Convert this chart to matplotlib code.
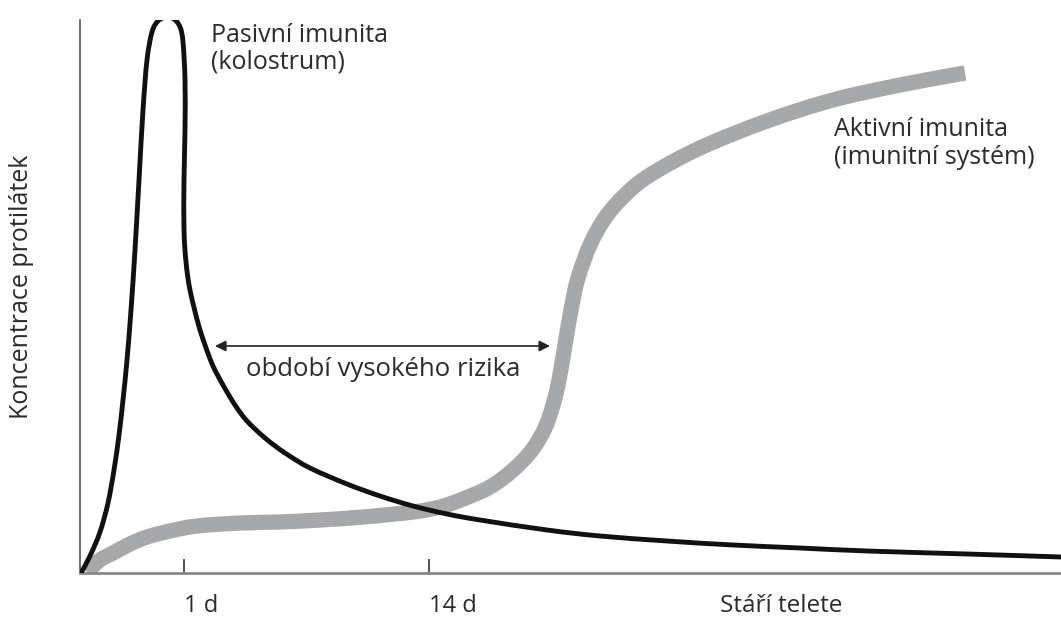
import matplotlib
matplotlib.use("Agg")
import matplotlib.pyplot as plt
from matplotlib.path import Path
from matplotlib.patches import PathPatch

plt.rcParams['font.family'] = ['Open Sans', 'DejaVu Sans']

# Passive immunity (colostrum) curve: x = age (arbitrary units), y = concentration
passive_x = [1, 10, 20, 28, 34, 39, 43, 47, 51, 55, 59, 63, 67, 72, 78, 86, 94, 100,
             103, 105, 105, 104, 104, 106, 110, 118, 125, 133, 143, 155, 167, 185, 205,
             230, 267, 300, 333, 367, 400, 467, 520, 587, 653, 720, 787, 887, 981]
passive_y = [0, 17, 41, 70, 103, 138, 173, 213, 263, 323, 393, 463, 513, 541, 552, 556,
             554, 546, 531, 493, 443, 393, 343, 311, 283, 250, 228, 207, 188, 168, 152,
             135, 120, 105, 89, 77, 67, 59, 53, 43, 37, 32, 28, 25, 22, 19, 16]

# Active immunity (immune system) curve
active_x = [7, 20, 33, 50, 67, 90, 117, 160, 200, 240, 283, 333, 360, 383, 410, 433, 452,
            465, 473, 479, 485, 491, 498, 510, 525, 545, 570, 620, 687, 753, 820, 885]
active_y = [1, 13, 20, 29, 36, 42, 47, 50, 51, 53, 56, 61, 66, 74, 86, 103, 123,
            145, 168, 193, 228, 263, 295, 328, 355, 378, 398, 425, 452, 473, 488, 500]

tick_pos = [104, 349]
tick_labels = ["1 d", "14 d"]

risk_start, risk_end, risk_level = 135, 470, 227

TXT = '#2b2b2b'


def smooth_path(xs, ys):
    """Catmull-Rom rendering of the read points as cubic Bezier segments."""
    pts = list(zip(xs, ys))
    verts = [pts[0]]
    codes = [Path.MOVETO]
    n = len(pts)
    for i in range(n - 1):
        p0 = pts[i - 1] if i > 0 else pts[i]
        p1 = pts[i]
        p2 = pts[i + 1]
        p3 = pts[i + 2] if i + 2 < n else pts[i + 1]
        c1 = (p1[0] + (p2[0] - p0[0]) / 6, p1[1] + (p2[1] - p0[1]) / 6)
        c2 = (p2[0] - (p3[0] - p1[0]) / 6, p2[1] - (p3[1] - p1[1]) / 6)
        verts += [c1, c2, p2]
        codes += [Path.CURVE4] * 3
    return Path(verts, codes)


W, H = 1061, 617
fig = plt.figure(figsize=(W / 100, H / 100), dpi=100)
ax = fig.add_axes([80 / W, 44 / H, 981 / W, 553 / H])
ax.set_xlim(0, 981)
ax.set_ylim(0, 553)

ax.add_patch(PathPatch(smooth_path(active_x, active_y), facecolor='none',
                       edgecolor='#a7a8aa', lw=11, capstyle='butt', joinstyle='round',
                       zorder=2))
ax.add_patch(PathPatch(smooth_path(passive_x, passive_y), facecolor='none',
                       edgecolor='#111111', lw=3.5, capstyle='round', joinstyle='round',
                       zorder=3))

for s in ['top', 'right']:
    ax.spines[s].set_visible(False)
ax.spines['left'].set_color('#555555')
ax.spines['left'].set_linewidth(1.2)
ax.spines['bottom'].set_color('#888888')
ax.spines['bottom'].set_linewidth(2)
ax.set_yticks([])
ax.set_xticks(tick_pos)
ax.set_xticklabels(tick_labels, fontsize=17, color=TXT, ha='left')
ax.tick_params(axis='x', direction='in', length=10, width=1.3, color='#444444', pad=15)

ax.annotate('', xy=(risk_start, risk_level), xytext=(risk_end, risk_level),
            arrowprops=dict(arrowstyle='<|-|>', color='#222222', lw=1.2,
                            mutation_scale=16, shrinkA=0, shrinkB=0))
ax.text((risk_start + risk_end) / 2 + 1, 204, "období vysokého rizika", fontsize=18.5,
        color=TXT, ha='center', va='center')

ax.text(131, 538, "Pasivní imunita", fontsize=18, color=TXT, va='center')
ax.text(131, 511, "(kolostrum)", fontsize=18, color=TXT, va='center')
ax.text(754, 443, "Aktivní imunita", fontsize=18, color=TXT, va='center')
ax.text(754, 416, "(imunitní systém)", fontsize=18, color=TXT, va='center')

ax.text(701, -33, "Stáří telete", fontsize=17.5, color=TXT, ha='center',
        va='center', clip_on=False)
fig.text(22 / W, 1 - 287 / H, "Koncentrace protilátek", rotation=90, fontsize=18,
         color=TXT, ha='center', va='center')

fig.savefig("out.png", dpi=100)
